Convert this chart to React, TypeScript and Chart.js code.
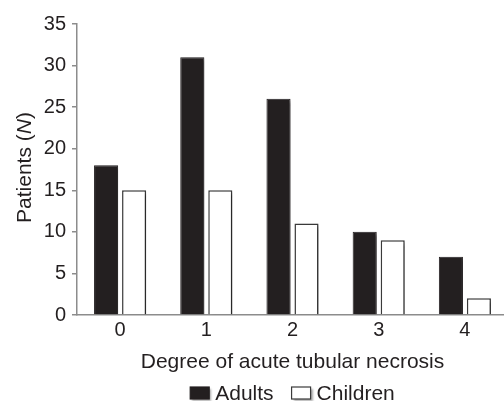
import React, { useEffect, useRef } from "react";
import { Chart, registerables } from "chart.js";

Chart.register(...registerables);

const categories = ["0", "1", "2", "3", "4"];
const adults = [18, 31, 26, 10, 7];
const children = [15, 15, 11, 9, 2];
const yMin = 0;
const yMax = 35;
const yStep = 5;
const xTitle = "Degree of acute tubular necrosis";
const yTitleParts = ["Patients (", "N", ")"];

const FONT = "'Liberation Sans', Arial, Helvetica, sans-serif";
const TEXT = "#231f20";
const AXIS = "#8c8c8c";

const shadowPlugin = {
  id: "barShadow",
  beforeDatasetsDraw(chart: any) {
    const ctx = chart.ctx;
    ctx.save();
    ctx.shadowColor = "rgba(0,0,0,0.35)";
    ctx.shadowOffsetX = 3;
    ctx.shadowOffsetY = 2;
    ctx.shadowBlur = 3;
  },
  afterDatasetsDraw(chart: any) {
    chart.ctx.restore();
  },
};

// Legend drawn from the datasets, centred under the plot area
const legendPlugin = {
  id: "customLegend",
  afterDraw(chart: any) {
    const ctx = chart.ctx;
    const { left, right } = chart.chartArea;
    const boxW = 19;
    const boxH = 12;
    const gapText = 6;
    const gapItem = 18;
    ctx.save();
    ctx.font = `21px ${FONT}`;
    const items = chart.data.datasets.map((ds: any) => ({
      label: ds.label,
      fill: ds.backgroundColor,
      stroke: ds.borderColor,
      w: ctx.measureText(ds.label).width,
    }));
    const total =
      items.reduce((s: number, it: any) => s + boxW + gapText + it.w, 0) +
      gapItem * (items.length - 1);
    let x = (left + right) / 2 - total / 2;
    const cy = 393;
    items.forEach((it: any) => {
      ctx.save();
      ctx.shadowColor = "rgba(0,0,0,0.35)";
      ctx.shadowOffsetX = 2;
      ctx.shadowOffsetY = 2;
      ctx.shadowBlur = 2;
      ctx.fillStyle = it.fill;
      ctx.fillRect(x, cy - boxH / 2, boxW, boxH);
      ctx.restore();
      ctx.strokeStyle = it.stroke;
      ctx.lineWidth = 1.2;
      ctx.strokeRect(x, cy - boxH / 2, boxW, boxH);
      ctx.fillStyle = TEXT;
      ctx.textBaseline = "middle";
      ctx.textAlign = "left";
      ctx.fillText(it.label, x + boxW + gapText, cy + 1);
      x += boxW + gapText + it.w + gapItem;
    });
    ctx.restore();
  },
};

const yTitlePlugin = {
  id: "yTitle",
  afterDraw(chart: any) {
    const ctx = chart.ctx;
    const { top, bottom } = chart.chartArea;
    ctx.save();
    ctx.translate(31, (top + bottom) / 2 - 2);
    ctx.rotate(-Math.PI / 2);
    ctx.fillStyle = TEXT;
    ctx.textBaseline = "alphabetic";
    const normal = `21px ${FONT}`;
    const italic = `italic 21px ${FONT}`;
    const fonts = [normal, italic, normal];
    let total = 0;
    const widths = yTitleParts.map((p, i) => {
      ctx.font = fonts[i];
      const w = ctx.measureText(p).width;
      total += w;
      return w;
    });
    let x = -total / 2;
    yTitleParts.forEach((p, i) => {
      ctx.font = fonts[i];
      ctx.fillText(p, x, 0);
      x += widths[i];
    });
    ctx.restore();
  },
};

export default function App() {
  const ref = useRef<HTMLCanvasElement>(null);

  useEffect(() => {
    document.body.style.margin = "0";
    document.body.style.overflow = "hidden";
    const canvas = ref.current;
    if (!canvas) return;
    const chart = new Chart(canvas, {
      type: "bar",
      data: {
        labels: categories,
        datasets: [
          {
            label: "Adults",
            data: adults,
            backgroundColor: TEXT,
            borderColor: TEXT,
            borderWidth: 1,
          },
          {
            label: "Children",
            data: children,
            backgroundColor: "#ffffff",
            borderColor: "#3a3a3a",
            borderWidth: 1.5,
          },
        ],
      },
      options: {
        animation: false,
        responsive: false,
        maintainAspectRatio: false,
        devicePixelRatio: 1,
        layout: { padding: { top: 24, right: 2, left: 0, bottom: 26 } },
        datasets: {
          bar: { categoryPercentage: 0.65, barPercentage: 0.86 },
        },
        plugins: {
          legend: { display: false },
          tooltip: { enabled: false },
          title: { display: false },
        },
        scales: {
          x: {
            grid: { display: false, drawTicks: false },
            border: { display: true, color: AXIS, width: 1.5 },
            ticks: {
              color: TEXT,
              font: { family: FONT, size: 20 },
              padding: 3,
            },
            title: {
              display: true,
              text: xTitle,
              color: TEXT,
              font: { family: FONT, size: 21 },
              padding: { top: 0, bottom: 0 },
            },
            afterFit(scale: any) {
              scale.height = 60;
            },
          },
          y: {
            min: yMin,
            max: yMax,
            grid: {
              display: true,
              drawOnChartArea: false,
              drawTicks: true,
              tickLength: 5,
              color: AXIS,
              lineWidth: 1.5,
            },
            border: { display: true, color: AXIS, width: 1.5 },
            ticks: {
              stepSize: yStep,
              color: TEXT,
              font: { family: FONT, size: 20 },
              padding: 6,
            },
            afterFit(scale: any) {
              scale.width = 77;
            },
          },
        },
      },
      plugins: [shadowPlugin, legendPlugin, yTitlePlugin],
    });
    return () => chart.destroy();
  }, []);

  return (
    <div style={{ width: 504, height: 401, overflow: "hidden" }}>
      <canvas ref={ref} width={510} height={401} style={{ display: "block" }} />
    </div>
  );
}
